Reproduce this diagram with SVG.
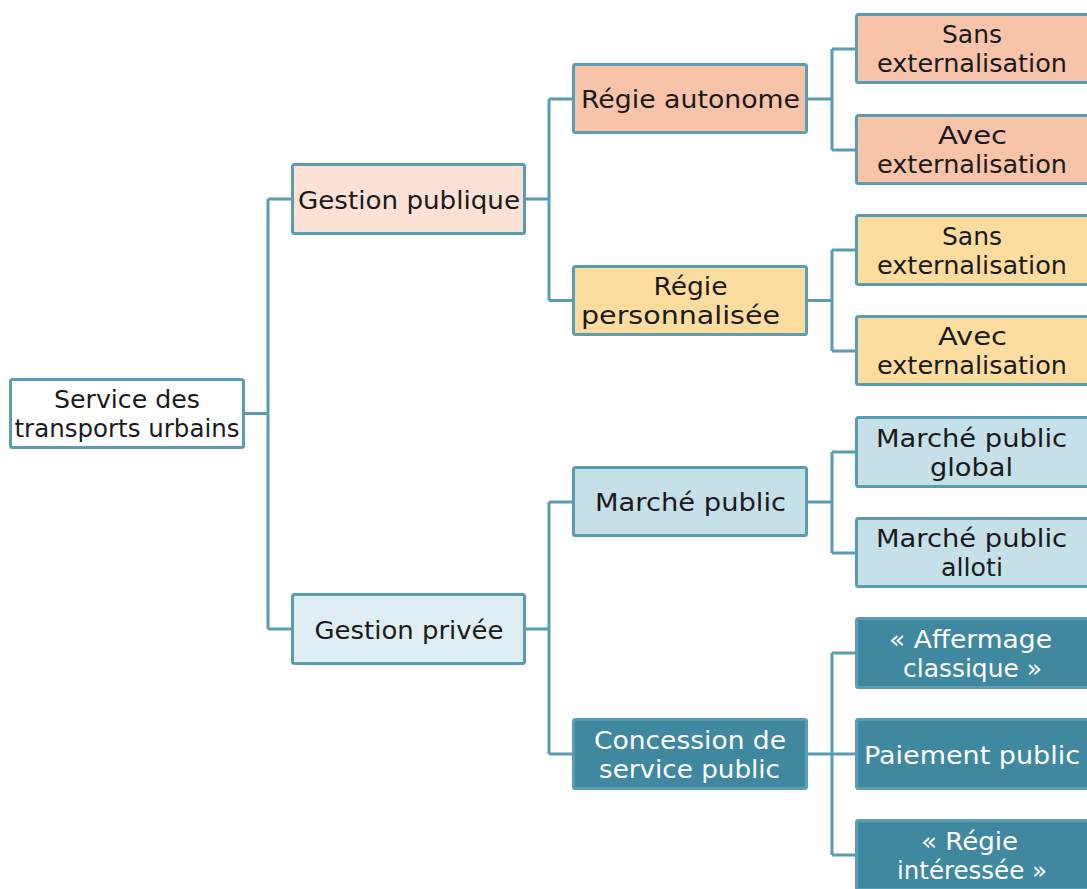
<svg xmlns="http://www.w3.org/2000/svg" width="1087" height="889" viewBox="0 0 1087 889">
  <style>
    .box { stroke: #5A9CB2; stroke-width: 3; }
    .t { font-family: "DejaVu Sans", "Liberation Sans", sans-serif; font-size: 24px; text-anchor: middle; fill: #1a1a1a; }
    .tw { fill: #ffffff; }
    .root { fill: #ffffff; }
    .l1pub { fill: #FBE1D6; }
    .l1priv { fill: #DEEEF2; }
    .orange { fill: #F7C4A9; }
    .yellow { fill: #FCDD9F; }
    .blue { fill: #C6E0E7; }
    .dark { fill: #3F88A0; }
    .conn { fill: none; stroke: #5A9CB2; stroke-width: 3; }
  </style>

  <g id="connectors">
    <path class="conn" d="M245 413.5 H268 M268 199 V629 M268 199 H291 M268 629 H291"/>
    <path class="conn" d="M526 199 H549 M549 99 V300.5 M549 99 H572 M549 300.5 H572"/>
    <path class="conn" d="M526 629 H549 M549 502 V754 M549 502 H572 M549 754 H572"/>
    <path class="conn" d="M808 99 H832 M832 49 V150 M832 49 H855 M832 150 H855"/>
    <path class="conn" d="M808 300.5 H832 M832 250 V351 M832 250 H855 M832 351 H855"/>
    <path class="conn" d="M808 502 H832 M832 452 V553 M832 452 H855 M832 553 H855"/>
    <path class="conn" d="M808 754 H832 M832 653 V855 M832 653 H855 M832 754 H855 M832 855 H855"/>
  </g>

  <g id="n-root">
    <rect class="box root" x="10.5" y="379.5" width="233" height="68" rx="2"/>
    <text class="t" x="127" y="407.5" textLength="146" lengthAdjust="spacingAndGlyphs">Service des</text>
    <text class="t" x="127" y="436.5" textLength="225" lengthAdjust="spacingAndGlyphs">transports urbains</text>
  </g>

  <g id="n-gestion-publique">
    <rect class="box l1pub" x="292.5" y="164.5" width="232" height="69" rx="2"/>
    <text class="t" x="409" y="208.5" textLength="222" lengthAdjust="spacingAndGlyphs">Gestion publique</text>
  </g>

  <g id="n-gestion-privee">
    <rect class="box l1priv" x="292.5" y="594.5" width="232" height="69" rx="2"/>
    <text class="t" x="409" y="638.5" textLength="189" lengthAdjust="spacingAndGlyphs">Gestion privée</text>
  </g>

  <g id="n-regie-autonome">
    <rect class="box orange" x="573.5" y="64.5" width="233" height="68" rx="2"/>
    <text class="t" x="690.5" y="108" textLength="219" lengthAdjust="spacingAndGlyphs">Régie autonome</text>
  </g>

  <g id="n-regie-personnalisee">
    <rect class="box yellow" x="573.5" y="266.5" width="233" height="68" rx="2"/>
    <text class="t" x="690.5" y="295" textLength="74" lengthAdjust="spacingAndGlyphs">Régie</text>
    <text class="t" x="680.5" y="324" textLength="199" lengthAdjust="spacingAndGlyphs">personnalisée</text>
  </g>

  <g id="n-marche-public">
    <rect class="box blue" x="573.5" y="467.5" width="233" height="68" rx="2"/>
    <text class="t" x="690.5" y="511" textLength="191" lengthAdjust="spacingAndGlyphs">Marché public</text>
  </g>

  <g id="n-concession">
    <rect class="box dark" x="573.5" y="719.5" width="233" height="69" rx="2"/>
    <text class="t tw" x="690" y="748.5" textLength="192" lengthAdjust="spacingAndGlyphs">Concession de</text>
    <text class="t tw" x="689.5" y="777.5" textLength="181" lengthAdjust="spacingAndGlyphs">service public</text>
  </g>

  <g id="n-ra-sans">
    <rect class="box orange" x="856.5" y="14.5" width="236" height="68" rx="2"/>
    <text class="t" x="972" y="43" textLength="60" lengthAdjust="spacingAndGlyphs">Sans</text>
    <text class="t" x="972" y="72" textLength="190" lengthAdjust="spacingAndGlyphs">externalisation</text>
  </g>

  <g id="n-ra-avec">
    <rect class="box orange" x="856.5" y="115.5" width="236" height="68" rx="2"/>
    <text class="t" x="972.5" y="144" textLength="69" lengthAdjust="spacingAndGlyphs">Avec</text>
    <text class="t" x="972" y="173" textLength="190" lengthAdjust="spacingAndGlyphs">externalisation</text>
  </g>

  <g id="n-rp-sans">
    <rect class="box yellow" x="856.5" y="215.5" width="236" height="69" rx="2"/>
    <text class="t" x="972" y="244.5" textLength="60" lengthAdjust="spacingAndGlyphs">Sans</text>
    <text class="t" x="972" y="273.5" textLength="190" lengthAdjust="spacingAndGlyphs">externalisation</text>
  </g>

  <g id="n-rp-avec">
    <rect class="box yellow" x="856.5" y="316.5" width="236" height="68" rx="2"/>
    <text class="t" x="972.5" y="345" textLength="69" lengthAdjust="spacingAndGlyphs">Avec</text>
    <text class="t" x="972" y="374" textLength="190" lengthAdjust="spacingAndGlyphs">externalisation</text>
  </g>

  <g id="n-mp-global">
    <rect class="box blue" x="856.5" y="417.5" width="236" height="69" rx="2"/>
    <text class="t" x="971.5" y="446.5" textLength="191" lengthAdjust="spacingAndGlyphs">Marché public</text>
    <text class="t" x="971.5" y="475.5" textLength="83" lengthAdjust="spacingAndGlyphs">global</text>
  </g>

  <g id="n-mp-alloti">
    <rect class="box blue" x="856.5" y="518.5" width="236" height="68" rx="2"/>
    <text class="t" x="971.5" y="547" textLength="191" lengthAdjust="spacingAndGlyphs">Marché public</text>
    <text class="t" x="972" y="576" textLength="62" lengthAdjust="spacingAndGlyphs">alloti</text>
  </g>

  <g id="n-affermage">
    <rect class="box dark" x="856.5" y="618.5" width="236" height="69" rx="2"/>
    <text class="t tw" x="970.5" y="647.5" textLength="163" lengthAdjust="spacingAndGlyphs">« Affermage</text>
    <text class="t tw" x="972.5" y="676.5" textLength="139" lengthAdjust="spacingAndGlyphs">classique »</text>
  </g>

  <g id="n-paiement">
    <rect class="box dark" x="856.5" y="719.5" width="236" height="69" rx="2"/>
    <text class="t tw" x="972" y="763.5" textLength="216" lengthAdjust="spacingAndGlyphs">Paiement public</text>
  </g>

  <g id="n-regie-interessee">
    <rect class="box dark" x="856.5" y="820.5" width="236" height="69" rx="2"/>
    <text class="t tw" x="969.5" y="849.5" textLength="97" lengthAdjust="spacingAndGlyphs">« Régie</text>
    <text class="t tw" x="972" y="878.5" textLength="150" lengthAdjust="spacingAndGlyphs">intéressée »</text>
  </g>
</svg>
